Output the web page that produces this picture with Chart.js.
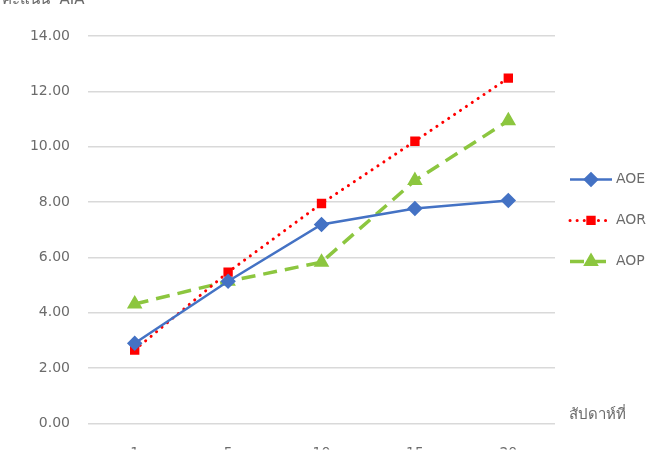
<!DOCTYPE html>
<html>
<head>
<meta charset="utf-8">
<script src="https://cdn.jsdelivr.net/npm/chart.js@4/dist/chart.umd.min.js"></script>
<style>
  html, body { margin: 0; padding: 0; background: #fff; overflow: hidden; }
  #wrap { width: 650px; height: 450px; position: relative; }
</style>
</head>
<body>
<div id="wrap"><canvas id="chart"></canvas></div>
<script>
const weeks = ['1', '5', '10', '15', '20'];
const aoe = [2.90, 5.14, 7.19, 7.77, 8.06];
const aor = [2.66, 5.47, 7.95, 10.20, 12.48];
const aop = [4.32, 5.14, 5.83, 8.78, 10.94];
const yTicks = [0, 2, 4, 6, 8, 10, 12, 14];

const textColor = '#6b6b6b';
const fontFamily = '"Liberation Sans Narrow", Tahoma, "DejaVu Sans", sans-serif';

// legend in Excel style: line with marker in the middle
const sideLabels = {
    id: 'sideLabels',
    afterDraw(chart) {
        const ctx = chart.ctx;
        const area = chart.chartArea;
        ctx.save();
        ctx.fillStyle = textColor;
        ctx.font = '15px ' + fontFamily;
        ctx.textBaseline = 'alphabetic';
        ctx.fillText('คะแนน  AIA', 2, 4);
        ctx.textBaseline = 'middle';
        ctx.fillText('สัปดาห์ที่', area.right + 14, area.bottom - 8);

        ctx.font = '14px ' + fontFamily;
        const x0 = area.right + 15;
        const mid = area.top + (area.bottom - area.top) * 0.37;
        chart.data.datasets.forEach((ds, i) => {
            const y = mid + i * 41;
            ctx.strokeStyle = ds.borderColor;
            ctx.fillStyle = ds.borderColor;
            ctx.lineWidth = ds.borderWidth;
            ctx.setLineDash(ds.borderDash || []);
            ctx.lineCap = ds.borderCapStyle || 'butt';
            ctx.beginPath();
            ctx.moveTo(x0, y);
            ctx.lineTo(x0 + 42, y);
            ctx.stroke();
            ctx.setLineDash([]);
            Chart.helpers.drawPoint(ctx, {
                pointStyle: ds.pointStyle,
                radius: ds.pointRadius,
                rotation: 0,
                borderWidth: 1
            }, x0 + 21, y);
            ctx.fillStyle = textColor;
            ctx.fillText(ds.label, x0 + 46, y);
        });
        ctx.restore();
    }
};

const ctx = document.getElementById('chart').getContext('2d');
new Chart(ctx, {
    type: 'line',
    data: {
        labels: weeks,
        datasets: [{
            label: 'AOE',
            data: aoe,
            borderColor: '#4472c4',
            backgroundColor: '#4472c4',
            borderWidth: 2.5,
            pointStyle: 'rectRot',
            pointRadius: 6,
            pointHoverRadius: 6,
            tension: 0
        }, {
            label: 'AOR',
            data: aor,
            borderColor: '#ff0000',
            backgroundColor: '#ff0000',
            borderWidth: 3,
            borderDash: [0.1, 7],
            borderCapStyle: 'round',
            pointStyle: 'rect',
            pointRadius: 4.5,
            pointHoverRadius: 4.5,
            tension: 0
        }, {
            label: 'AOP',
            data: aop,
            borderColor: '#8cc63f',
            backgroundColor: '#8cc63f',
            borderWidth: 3.5,
            borderDash: [14, 8],
            pointStyle: 'triangle',
            pointRadius: 5.5,
            pointHoverRadius: 5.5,
            tension: 0
        }]
    },
    options: {
        responsive: true,
        maintainAspectRatio: false,
        animation: false,
        layout: { padding: { left: 0, right: 95, top: 36, bottom: 0 } },
        plugins: {
            legend: { display: false },
            tooltip: { enabled: false }
        },
        scales: {
            x: {
                offset: true,
                grid: { display: false, drawTicks: false },
                border: { display: false },
                ticks: { color: textColor, font: { size: 14, family: fontFamily }, padding: 21 },
                afterFit: s => { s.height = 26; }
            },
            y: {
                min: 0,
                max: 14,
                afterBuildTicks: s => { s.ticks = yTicks.map(v => ({ value: v })); },
                grid: { color: '#d9d9d9', lineWidth: 1.5, drawTicks: false },
                border: { display: false },
                ticks: {
                    color: textColor,
                    font: { size: 14, family: fontFamily },
                    padding: 18,
                    callback: v => v.toFixed(2)
                },
                afterFit: s => { s.width = 88; }
            }
        }
    },
    plugins: [sideLabels]
});
</script>
</body>
</html>
